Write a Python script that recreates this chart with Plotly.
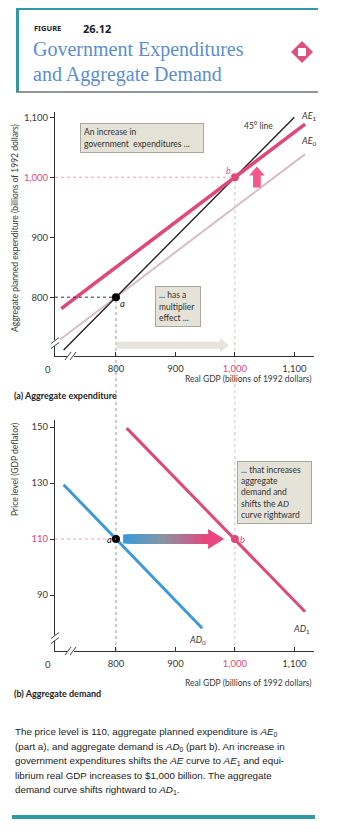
import plotly.graph_objects as go

W, H = 339, 834

# ---------------- data ----------------
gdp_tick_vals = [800, 900, 1000, 1100]
gdp_tick_text = ["800", "900", '<span style="color:#e0487a">1,000</span>', "1,100"]
ae_tick_vals = [800, 900, 1000, 1100]
ae_tick_text = ["800", "900", '<span style="color:#e0487a">1,000</span>', "1,100"]
price_tick_vals = [90, 110, 130, 150]
price_tick_text = ["90", '<span style="color:#e0487a">110</span>', "130", "150"]

# part (a): aggregate expenditure
line45_gdp = [712, 1100]
line45_ae = [712, 1100]
ae0_gdp = [706, 1118]
ae0_ae = [729.5, 1038.5]
ae1_gdp = [708, 1118]
ae1_ae = [781, 1088.5]
point_a_ae = (800, 800)
point_b_ae = (1000, 1000)

# part (b): aggregate demand
ad0_gdp = [712, 945]
ad0_price = [129.4, 78.1]
ad1_gdp = [818, 1118]
ad1_price = [149.6, 84.0]
point_a_ad = (800, 110)
point_b_ad = (1000, 110)

# ---------------- styling ----------------
PINK = "#e0487a"
BLUE = "#3d9ad8"
AE0_COL = "#d9bcc5"
TEAL = "#2d9aa6"
TXT = "#3a3a3a"
FONT = "Lato"

X_RANGE = [697.5, 1133]
X_DOM = [55 / W, 314 / W]
YA_RANGE = [702, 1108.7]
YA_DOM = [1 - 356 / H, 1 - 112 / H]
YB_RANGE = [70, 152.5]
YB_DOM = [1 - 651 / H, 1 - 420 / H]


def px(v):
    return v / W


def py(v):
    return 1 - v / H


def ya_paper(v):
    return YA_DOM[0] + (v - YA_RANGE[0]) / (YA_RANGE[1] - YA_RANGE[0]) * (YA_DOM[1] - YA_DOM[0])


fig = go.Figure()


def add_line(xs, ys, color, width, xa="x", ya="y", dash=None):
    fig.add_trace(go.Scatter(x=xs, y=ys, mode="lines", xaxis=xa, yaxis=ya,
                             line=dict(color=color, width=width, dash=dash),
                             hoverinfo="skip", showlegend=False))


# part (a) curves
add_line(ae0_gdp, ae0_ae, AE0_COL, 2)
add_line(line45_gdp, line45_ae, "#222222", 1.4)
add_line(ae1_gdp, ae1_ae, PINK, 3.6)

# part (b) curves
add_line(ad0_gdp, ad0_price, BLUE, 3, "x2", "y2")
add_line(ad1_gdp, ad1_price, PINK, 3, "x2", "y2")

shapes = []

# dotted guide lines
shapes.append(dict(type="line", xref="x", yref="y", x0=X_RANGE[0], x1=point_a_ae[0],
                   y0=point_a_ae[1], y1=point_a_ae[1], line=dict(color="#333", width=1, dash="dot")))
shapes.append(dict(type="line", xref="x", yref="y", x0=X_RANGE[0], x1=point_b_ae[0],
                   y0=point_b_ae[1], y1=point_b_ae[1], line=dict(color="#f0a0b8", width=1, dash="dot")))
shapes.append(dict(type="line", xref="x2", yref="y2", x0=X_RANGE[0], x1=point_a_ad[0],
                   y0=point_a_ad[1], y1=point_a_ad[1], line=dict(color="#f0a0b8", width=1, dash="dot")))
shapes.append(dict(type="line", xref="x", yref="paper", x0=point_a_ae[0], x1=point_a_ae[0],
                   y0=YB_DOM[0], y1=ya_paper(point_a_ae[1]), line=dict(color="#999", width=1, dash="dot"),
                   layer="below"))
shapes.append(dict(type="line", xref="x", yref="paper", x0=point_b_ae[0], x1=point_b_ae[0],
                   y0=YB_DOM[0], y1=ya_paper(point_b_ae[1]), line=dict(color="#cfc0c4", width=1, dash="dot"),
                   layer="below"))

# faint rightward arrow under part (a)
g_y, g_x0, g_x1, g_tip = 720, 801, 975, 990
shapes.append(dict(type="path", xref="x", yref="y", fillcolor="#e6e4dc", line=dict(width=0),
                   path=f"M{g_x0},{g_y-5.8} L{g_x1},{g_y-5.8} L{g_x1},{g_y-12} L{g_tip},{g_y} "
                        f"L{g_x1},{g_y+12} L{g_x1},{g_y+5.8} L{g_x0},{g_y+5.8} Z"))

# upward shift arrow in part (a)
u_x, u_y0, u_y1, u_tip = 1037, 983, 1003, 1018
shapes.append(dict(type="path", xref="x", yref="y", fillcolor="#f3588a", line=dict(width=0),
                   path=f"M{u_x-6.5},{u_y0} L{u_x+6.5},{u_y0} L{u_x+6.5},{u_y1} L{u_x+13},{u_y1} "
                        f"L{u_x},{u_tip} L{u_x-13},{u_y1} L{u_x-6.5},{u_y1} Z"))

# gradient shift arrow in part (b): overlapping bands, each running to the head
r_y, r_x0, r_x1, r_tip = 110, 812, 955, 982
c0, cm, c1 = (58, 154, 216), (135, 150, 165), (232, 70, 124)
n_seg = 40
for i in range(n_seg):
    t = i / (n_seg - 1)
    if t < 0.45:
        u = t / 0.45
        c = tuple(int(c0[k] + (cm[k] - c0[k]) * u) for k in range(3))
    else:
        u = (t - 0.45) / 0.55
        c = tuple(int(cm[k] + (c1[k] - cm[k]) * u) for k in range(3))
    xa = r_x0 + (r_x1 - r_x0) * i / n_seg
    shapes.append(dict(type="rect", xref="x2", yref="y2", x0=xa, x1=r_x1 + 1, y0=r_y - 1.6, y1=r_y + 1.6,
                       fillcolor=f"rgb{c}", line=dict(width=0)))
shapes.append(dict(type="path", xref="x2", yref="y2", fillcolor="rgb(236,68,124)", line=dict(width=0),
                   path=f"M{r_x1},{r_y-3.6} L{r_tip},{r_y} L{r_x1},{r_y+3.6} Z"))


# axis breaks
def axis_breaks(axis_y):
    out = []
    yb = axis_y - 13
    out.append(dict(type="rect", xref="paper", yref="paper", x0=px(52), x1=px(58),
                    y0=py(yb + 3), y1=py(yb - 3), fillcolor="white", line=dict(width=0)))
    for d in (-2.5, 2.5):
        out.append(dict(type="line", xref="paper", yref="paper", x0=px(51), x1=px(59),
                        y0=py(yb + d + 3), y1=py(yb + d - 3), line=dict(color="#444", width=1)))
    out.append(dict(type="rect", xref="paper", yref="paper", x0=px(67), x1=px(74),
                    y0=py(axis_y + 3), y1=py(axis_y - 3), fillcolor="white", line=dict(width=0)))
    for d in (-2.5, 2.5):
        out.append(dict(type="line", xref="paper", yref="paper", x0=px(70.5 + d - 3), x1=px(70.5 + d + 3),
                        y0=py(axis_y + 4), y1=py(axis_y - 4), line=dict(color="#444", width=1)))
    return out


shapes += axis_breaks(356)
shapes += axis_breaks(651)

# header frame
shapes.append(dict(type="line", xref="paper", yref="paper", x0=px(16), x1=px(318), y0=py(9), y1=py(9),
                   line=dict(color=TEAL, width=2)))
shapes.append(dict(type="rect", xref="paper", yref="paper", x0=px(16), x1=px(19), y0=py(92), y1=py(9),
                   fillcolor=TEAL, line=dict(width=0)))
shapes.append(dict(type="line", xref="paper", yref="paper", x0=px(16), x1=px(318), y0=py(92), y1=py(92),
                   line=dict(color="#6e7474", width=1.6)))
# diamond emblem
dx, dy, dr, ds = 302, 52, 11, 4
shapes.append(dict(type="path", xref="paper", yref="paper", fillcolor="#e0507e", line=dict(width=0),
                   path=f"M{px(dx)},{py(dy-dr)} L{px(dx+dr)},{py(dy)} L{px(dx)},{py(dy+dr)} L{px(dx-dr)},{py(dy)} Z"))
shapes.append(dict(type="rect", xref="paper", yref="paper", x0=px(dx - ds), x1=px(dx + ds),
                   y0=py(dy + ds), y1=py(dy - ds), fillcolor="white", line=dict(width=0)))
# footer bar
shapes.append(dict(type="rect", xref="paper", yref="paper", x0=px(12), x1=px(315), y0=py(819), y1=py(815),
                   fillcolor=TEAL, line=dict(width=0)))

# equilibrium points
fig.add_trace(go.Scatter(x=[point_a_ae[0]], y=[point_a_ae[1]], mode="markers", xaxis="x", yaxis="y",
                         marker=dict(color="black", size=8), hoverinfo="skip", showlegend=False))
fig.add_trace(go.Scatter(x=[point_b_ae[0]], y=[point_b_ae[1]], mode="markers", xaxis="x", yaxis="y",
                         marker=dict(color=PINK, size=8), hoverinfo="skip", showlegend=False))
fig.add_trace(go.Scatter(x=[point_a_ad[0]], y=[point_a_ad[1]], mode="markers", xaxis="x2", yaxis="y2",
                         marker=dict(color="black", size=8), hoverinfo="skip", showlegend=False))
fig.add_trace(go.Scatter(x=[point_b_ad[0]], y=[point_b_ad[1]], mode="markers", xaxis="x2", yaxis="y2",
                         marker=dict(color=PINK, size=8), hoverinfo="skip", showlegend=False))

ann = []


def text(x, y, s, size=9, color=TXT, xanchor="left", yanchor="middle", xref="paper", yref="paper",
         family=FONT, **kw):
    ann.append(dict(x=x, y=y, xref=xref, yref=yref, text=s, showarrow=False, xanchor=xanchor,
                    yanchor=yanchor, font=dict(size=size, color=color, family=family), **kw))


# header
text(px(32), py(28), "<b>FIGURE</b>", 7.5, "#222", family="Noto Sans")
text(px(81), py(28), "<b>26.12</b>", 11, "#222", family="Noto Sans")
text(px(31), py(50), "Government Expenditures", 20, "#5b8ed0", family="Liberation Serif")
text(px(31), py(74), "and Aggregate Demand", 20, "#5b8ed0", family="Liberation Serif")

# part (a) labels
text(point_a_ae[0] + 4, point_a_ae[1] - 10, "<i>a</i>", 9.5, "#222", xref="x", yref="y")
text(point_b_ae[0] - 3, point_b_ae[1] + 11, "<i>b</i>", 9, PINK, xanchor="right", xref="x", yref="y")
text(1039, 1085, "45° line", 8.5, "#333", xanchor="center", xref="x", yref="y")
text(ae1_gdp[1] + 6, ae1_ae[1] + 14, "<i>AE</i><sub>1</sub>", 9, "#333", xanchor="center", xref="x", yref="y")
text(ae0_gdp[1] + 6, ae0_ae[1] + 22, "<i>AE</i><sub>0</sub>", 9, "#333", xanchor="center", xref="x", yref="y")
text(px(48), py(369), "0", 9.5, TXT, xanchor="center")
text(px(313), py(379), "Real GDP (billions of 1992 dollars)", 8.5, TXT, xanchor="right")
text(px(12), py(396), "<b>(a) Aggregate expenditure</b>", 9, "#222")
text(px(15), py(228), "Aggregate planned expenditure (billions of 1992 dollars)", 8.5, TXT,
     xanchor="center", textangle=-90)

# part (b) labels
text(point_a_ad[0] - 4, point_a_ad[1], "<i>a</i>", 9.5, "#222", xanchor="right", xref="x2", yref="y2")
text(point_b_ad[0] + 5, point_b_ad[1], "<i>b</i>", 9.5, PINK, xref="x2", yref="y2")
text(ad0_gdp[1] - 8, ad0_price[1] - 4, "<i>AD</i><sub>0</sub>", 9, "#333", xanchor="center", xref="x2", yref="y2")
text(ad1_gdp[1] - 6, ad1_price[1] - 6, "<i>AD</i><sub>1</sub>", 9, "#333", xanchor="center", xref="x2", yref="y2")
text(px(48), py(664), "0", 9.5, TXT, xanchor="center")
text(px(313), py(683), "Real GDP (billions of 1992 dollars)", 8.5, TXT, xanchor="right")
text(px(12), py(693), "<b>(b) Aggregate demand</b>", 9, "#222")
text(px(15), py(470), "Price level (GDP deflator)", 8.5, TXT, xanchor="center", textangle=-90)

# callout boxes
BOX = dict(bgcolor="#e5e2d7", bordercolor="#a9a69b", borderwidth=1, borderpad=3, align="left",
           yanchor="top")
ann.append(dict(x=px(80), y=py(123), xref="paper", yref="paper", showarrow=False, xanchor="left",
                text="An increase in<br>government  expenditures ...", width=116, height=22,
                font=dict(size=8.5, color="#333", family=FONT), **BOX))
ann.append(dict(x=px(155), y=py(286), xref="paper", yref="paper", showarrow=False, xanchor="left",
                text="... has a<br>multiplier<br>effect ...", width=38, height=33,
                font=dict(size=8.5, color="#333", family=FONT), **BOX))
ann.append(dict(x=px(237), y=py(461), xref="paper", yref="paper", showarrow=False, xanchor="left",
                text="... that increases<br>aggregate<br>demand and<br>shifts the <i>AD</i><br>curve rightward",
                width=67, height=55, font=dict(size=8.5, color="#333", family=FONT), **BOX))

# caption
caption = [
    "The price level is 110, aggregate planned expenditure is <i>AE</i><sub>0</sub>",
    "(part a), and aggregate demand is <i>AD</i><sub>0</sub> (part b). An increase in",
    "government expenditures shifts the <i>AE</i> curve to <i>AE</i><sub>1</sub> and equi-",
    "librium real GDP increases to $1,000 billion. The aggregate",
    "demand curve shifts rightward to <i>AD</i><sub>1</sub>.",
]
for i, line in enumerate(caption):
    text(px(13), py(732 + i * 14.6), line, 9.8, "#222", family="Liberation Sans")

axis_common = dict(showgrid=False, zeroline=False, showline=True, linecolor="#333", linewidth=1,
                   tickcolor="#333", ticklen=4, tickfont=dict(size=9.5, color=TXT, family=FONT),
                   fixedrange=True)

fig.update_layout(
    width=W, height=H, margin=dict(l=0, r=0, t=0, b=0),
    paper_bgcolor="white", plot_bgcolor="white", showlegend=False,
    xaxis=dict(domain=X_DOM, range=X_RANGE, anchor="y", tickvals=gdp_tick_vals, ticktext=gdp_tick_text,
               ticks="inside", ticklabelstandoff=4, **axis_common),
    yaxis=dict(domain=YA_DOM, range=YA_RANGE, anchor="x", tickvals=ae_tick_vals, ticktext=ae_tick_text,
               ticks="outside", **axis_common),
    xaxis2=dict(domain=X_DOM, range=X_RANGE, anchor="y2", tickvals=gdp_tick_vals, ticktext=gdp_tick_text,
                ticks="inside", ticklabelstandoff=4, **axis_common),
    yaxis2=dict(domain=YB_DOM, range=YB_RANGE, anchor="x2", tickvals=price_tick_vals,
                ticktext=price_tick_text, ticks="outside", **axis_common),
    shapes=shapes, annotations=ann,
)

fig.write_html("out.html")
